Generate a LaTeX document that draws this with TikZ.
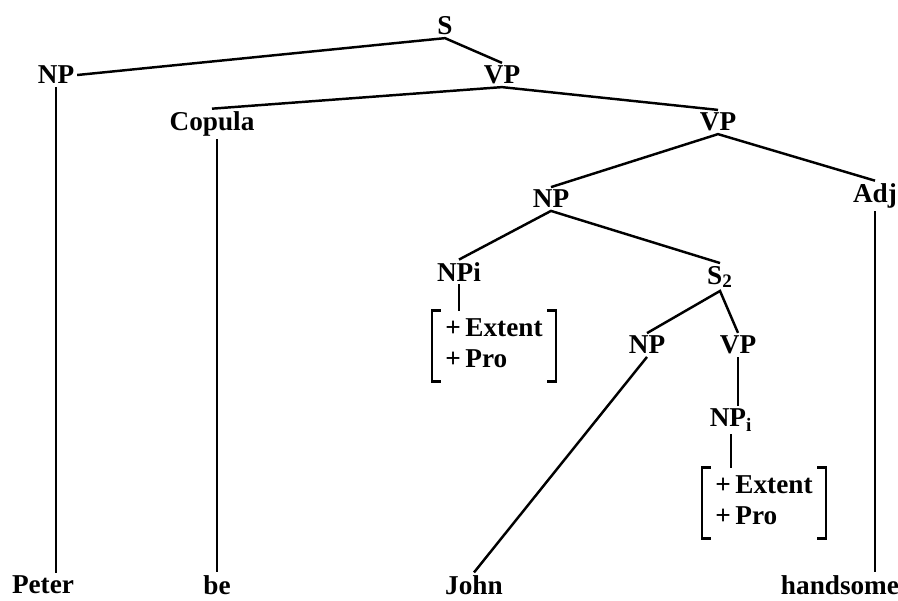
\documentclass[tikz,border=0pt]{standalone}
\usepackage{fontspec}
\setmainfont{Liberation Serif}
\begin{document}
\begin{tikzpicture}[x=0.02cm,y=-0.02cm,line width=1.4pt,
  font=\fontsize{15.5}{17.5}\selectfont\bfseries,
  every node/.style={inner sep=1pt},
  feat/.style={inner xsep=7pt,inner ysep=2pt}]
\useasboundingbox (0,0) rectangle (898,600);
% categories
\node (s) at (445,26) {S};
\node (np) at (56,75) {NP};
\node (vp) at (502,75) {VP};
\node (cop) at (212,124) {Copula};
\node (vpb) at (718,122) {VP};
\node (npc) at (551,199) {NP};
\node (adj) at (875,196) {Adj};
\node (npi) at (459,272) {NPi};
\node (s2) at (720,277) {S\textsubscript{2}};
\node (npd) at (647,345) {NP};
\node (vpd) at (738,345) {VP};
\node (npj) at (731,420) {NP\textsubscript{i}};
\node[feat] (fa) at (494,346) {\begin{tabular}{@{}l@{}}+\,Extent\\+\,Pro\end{tabular}};
\node[feat] (fb) at (764,503) {\begin{tabular}{@{}l@{}}+\,Extent\\+\,Pro\end{tabular}};
% words
\node (peter) at (43,585) {Peter};
\node (be) at (217,585) {be};
\node (john) at (474,585) {John};
\node (hand) at (840,585) {handsome};
% branches
\draw (np.east) -- (s.south) -- (vp.north);
\draw (cop.north) -- (vp.south) -- (vpb.north);
\draw (npc.north) -- (vpb.south) -- (adj.north);
\draw (npi.north) -- (npc.south) -- (s2.north);
\draw (npd.north) -- (s2.south) -- (vpd.north);
\draw (vpd.south) -- (vpd.south |- npj.north);
\draw (npj.south) -- (npj.south |- fb.north);
\draw (npi.south) -- (npi.south |- fa.north);
\draw (np.south) -- (np.south |- peter.north);
\draw (be.north |- cop.south) -- (be.north);
\draw (npd.south) -- (john.north);
\draw (adj.south) -- (adj.south |- hand.north);
% brackets
\foreach \f in {fa,fb}{
  \draw ([xshift=5pt]\f.north west) -- (\f.north west) -- (\f.south west) -- ++(5pt,0);
  \draw ([xshift=-5pt]\f.north east) -- (\f.north east) -- (\f.south east) -- ++(-5pt,0);
}
\end{tikzpicture}
\end{document}
